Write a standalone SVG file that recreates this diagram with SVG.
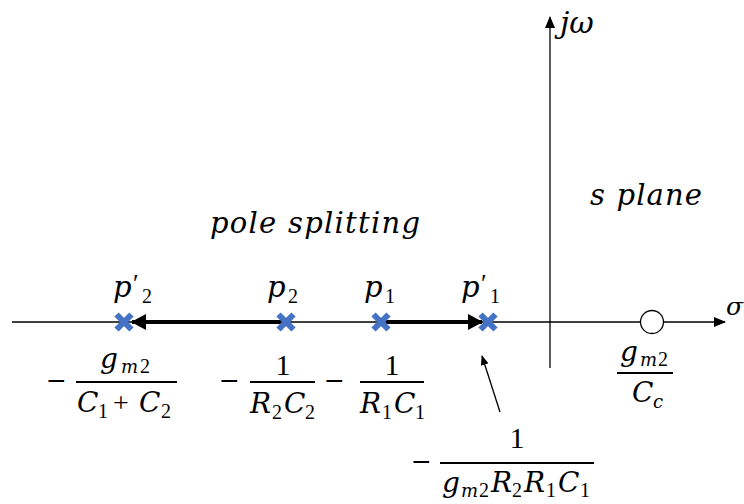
<svg xmlns="http://www.w3.org/2000/svg" width="744" height="504" viewBox="0 0 744 504">
<style>
.t{font-family:"DejaVu Serif","Liberation Serif",serif;font-style:italic;fill:#000}
.n{font-family:"Liberation Serif","Times New Roman",serif;font-style:normal;fill:#000}
.mi{font-family:"DejaVu Serif","Liberation Serif",serif;font-style:normal;font-size:25px;fill:#000}
.b{font-size:28px}
.s{font-size:20px}
.m{font-size:18px}
.ax{stroke:#000;stroke-width:1.3;fill:none}
.thick{stroke:#000;stroke-width:4;fill:none}
.bar{stroke:#000;stroke-width:1.8}
.x{stroke:#4472C4;stroke-width:6;stroke-linecap:butt}
</style>
<defs>
<marker id="ah" markerWidth="12" markerHeight="10" refX="11" refY="5" orient="auto" markerUnits="userSpaceOnUse">
<path d="M0,0 L12,5 L0,10 Z" fill="#000"/>
</marker>
<marker id="ahs" markerWidth="10" markerHeight="8" refX="9" refY="4" orient="auto" markerUnits="userSpaceOnUse">
<path d="M0,0 L10,4 L0,8 Z" fill="#000"/>
</marker>
<marker id="ahb" markerWidth="15" markerHeight="16" refX="14" refY="8" orient="auto" markerUnits="userSpaceOnUse">
<path d="M0,0 L15,8 L0,16 Z" fill="#000"/>
</marker>
<g id="cross"><line class="x" x1="-7.5" y1="-7.5" x2="7.5" y2="7.5"/><line class="x" x1="-7.5" y1="7.5" x2="7.5" y2="-7.5"/></g>
</defs>
<g id="connectors">
<line class="ax" x1="12" y1="322" x2="725" y2="322" marker-end="url(#ah)"/>
<line class="ax" x1="550" y1="368" x2="550" y2="17" marker-end="url(#ah)"/>
<line class="thick" x1="282" y1="322" x2="132" y2="322" marker-end="url(#ahb)"/>
<line class="thick" x1="386" y1="322" x2="482" y2="322" marker-end="url(#ahb)"/>
<line class="ax" x1="500" y1="412" x2="482" y2="356" marker-end="url(#ahs)"/>
</g>
<g id="axis-labels">
<text class="t" x="726" y="315" font-size="25">σ</text>
<text class="t" x="560" y="33" font-size="30">jω</text>
<text class="t" x="590" y="205" font-size="29" textLength="112" lengthAdjust="spacing">s plane</text>
<text class="t" x="210" y="233" font-size="29" textLength="210" lengthAdjust="spacing">pole splitting</text>
</g>
<g id="p2prime">
<use href="#cross" x="124" y="322"/>
<text class="t" x="113" y="297" font-size="29">p</text>
<text class="n" x="133" y="292" font-size="26">′</text>
<text class="n s" x="142" y="303">2</text>
<text class="mi" x="46" y="389">−</text>
<text class="t b" x="100" y="368">g</text>
<text class="t m" x="121" y="373">m</text>
<text class="n s" x="140" y="373">2</text>
<line class="bar" x1="76" y1="382" x2="177" y2="382"/>
<text class="t b" x="77" y="412">C</text>
<text class="n s" x="98" y="418">1</text>
<text class="n b" x="113" y="412">+</text>
<text class="t b" x="139" y="412">C</text>
<text class="n s" x="161" y="418">2</text>
</g>
<g id="p2">
<use href="#cross" x="286" y="322"/>
<text class="t" x="267" y="297" font-size="29">p</text>
<text class="n s" x="288" y="303">2</text>
<text class="mi" x="219" y="389">−</text>
<text class="n" x="283" y="375" font-size="30" text-anchor="middle">1</text>
<line class="bar" x1="250" y1="382" x2="315" y2="382"/>
<text class="t b" x="250" y="413">R</text>
<text class="n s" x="272" y="419">2</text>
<text class="t b" x="284" y="413">C</text>
<text class="n s" x="305" y="419">2</text>
</g>
<g id="p1">
<use href="#cross" x="381" y="322"/>
<text class="t" x="364" y="297" font-size="29">p</text>
<text class="n s" x="385" y="303">1</text>
<text class="mi" x="324" y="389">−</text>
<text class="n" x="392" y="375" font-size="30" text-anchor="middle">1</text>
<line class="bar" x1="360" y1="382" x2="424" y2="382"/>
<text class="t b" x="360" y="413">R</text>
<text class="n s" x="382" y="419">1</text>
<text class="t b" x="394" y="413">C</text>
<text class="n s" x="415" y="419">1</text>
</g>
<g id="p1prime">
<use href="#cross" x="488" y="322"/>
<text class="t" x="461" y="297" font-size="29">p</text>
<text class="n" x="481" y="292" font-size="26">′</text>
<text class="n s" x="490" y="303">1</text>
<text class="mi" x="411" y="470">−</text>
<text class="n" x="517" y="448" font-size="30" text-anchor="middle">1</text>
<line class="bar" x1="440" y1="463" x2="594" y2="463"/>
<text class="t b" x="442" y="492">g</text>
<text class="t m" x="461" y="497">m</text>
<text class="n s" x="479" y="497">2</text>
<text class="t b" x="491" y="492">R</text>
<text class="n s" x="512" y="497">2</text>
<text class="t b" x="524" y="492">R</text>
<text class="n s" x="546" y="497">1</text>
<text class="t b" x="558" y="492">C</text>
<text class="n s" x="580" y="497">1</text>
</g>
<g id="zero">
<circle cx="652" cy="322" r="11.5" fill="#fff" stroke="#000" stroke-width="1.3"/>
<text class="t b" x="620" y="361">g</text>
<text class="t m" x="640" y="366">m</text>
<text class="n s" x="658" y="366">2</text>
<line class="bar" x1="617" y1="373" x2="673" y2="373"/>
<text class="t b" x="632" y="402">C</text>
<text class="t m" x="653" y="408">c</text>
</g>
</svg>
